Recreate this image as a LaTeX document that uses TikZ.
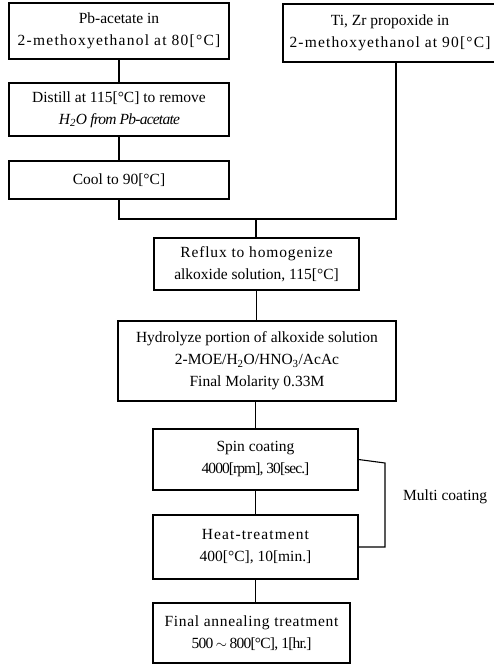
\documentclass[tikz,border=0pt]{standalone}
\usepackage{fontspec}
\setmainfont{Liberation Serif}
\newcommand{\lsp}[2]{{\addfontfeature{LetterSpace=#1}#2}}
\begin{document}
\begin{tikzpicture}[x=1pt,y=-1pt,
  box/.style={draw,line width=1.1pt,inner sep=0pt,align=center,
    font=\fontsize{15.5}{22}\selectfont},
  conn/.style={line width=1.1pt},
  lbl/.style={font=\fontsize{15.5}{22}\selectfont,inner sep=0pt}]
\useasboundingbox (0,0) rectangle (494,665);
\clip (0,0) rectangle (494,665);
\node[box,minimum width=220pt,minimum height=56pt] (b1) at (119,31)
  {Pb-acetate in\\\lsp{8}{2-methoxyethanol at 80[°C]}};
\node[box,minimum width=220pt,minimum height=53pt] (b2) at (119,109.5)
  {Distill at 115[°C] to remove\\\lsp{-5}{\textit{H\textsubscript{2}O from Pb-acetate}}};
\node[box,minimum width=220pt,minimum height=38pt] (b3) at (119,180)
  {Cool to 90[°C]};
\node[box,minimum width=214pt,minimum height=58pt] (b4) at (390,33)
  {Ti, Zr propoxide in\\\lsp{7.5}{2-methoxyethanol at 90[°C]}};
\node[box,minimum width=205pt,minimum height=52pt] (b5) at (256.5,264)
  {\lsp{5.5}{Reflux to homogenize}\\alkoxide solution, 115[°C]};
\node[box,minimum width=278pt,minimum height=80pt] (b6) at (257,361)
  {Hydrolyze portion of alkoxide solution\\2-MOE/H\textsubscript{2}O/HNO\textsubscript{3}/AcAc\\Final Molarity 0.33M};
\node[box,minimum width=205pt,minimum height=61pt] (b7) at (255.5,459.5)
  {Spin coating\\\lsp{-6}{4000[rpm], 30[sec.]}};
\node[box,minimum width=205pt,minimum height=64pt] (b8) at (255.5,547)
  {\lsp{7}{Heat-treatment}\\400[°C], 10[min.]};
\node[box,minimum width=197pt,minimum height=60pt] (b9) at (251.5,633)
  {\lsp{4.5}{Final annealing treatment}\\\lsp{-5}{500\,$\sim$\,800[°C], 1[hr.]}};
\node[lbl,anchor=west] (mc) at (403,497) {Multi coating};
\coordinate (j) at (256,219);
\coordinate (loopa) at (385,463);
\draw[conn] (b1.south) -- (b2.north);
\draw[conn] (b2.south) -- (b3.north);
\draw[conn] (b3.south) |- (j) -| (396,62);
\draw[conn] (j) -- (j |- b5.north);
\draw[conn] (b5.south) -- (b5.south |- b6.north);
\draw[conn] (b7.north |- b6.south) -- (b7.north);
\draw[conn] (b7.south) -- (b8.north);
\draw[conn] (b8.south) -- (b8.south |- b9.north);
\draw[conn] (b7.east) -- (loopa) |- (b8.east);
\end{tikzpicture}
\end{document}
